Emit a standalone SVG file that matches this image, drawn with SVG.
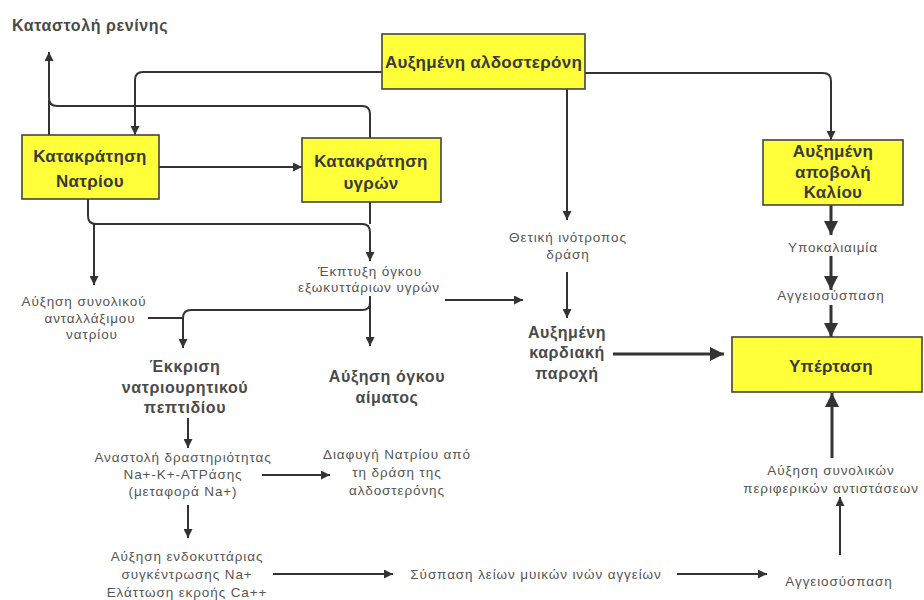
<svg xmlns="http://www.w3.org/2000/svg" width="924" height="600" viewBox="0 0 924 600">
<defs>
<marker id="ah" viewBox="0 0 10 10" refX="10" refY="5" markerWidth="9" markerHeight="9" markerUnits="userSpaceOnUse" orient="auto"><path d="M0,0 L10,5 L0,10 z" fill="#333"/></marker>
<marker id="ahb" viewBox="0 0 10 10" refX="10" refY="5" markerWidth="14" markerHeight="14" markerUnits="userSpaceOnUse" orient="auto"><path d="M0,0 L10,5 L0,10 z" fill="#333"/></marker>
<style>
.box{fill:#FFFF3A;stroke:#444;stroke-width:1.6}
.bt{font-family:"Liberation Sans",Arial,sans-serif;font-weight:bold;font-size:17px;letter-spacing:0.3px;fill:#3a3a3a;text-anchor:middle}
.mt{font-family:"Liberation Sans",Arial,sans-serif;font-weight:bold;font-size:16px;letter-spacing:0.6px;fill:#4a4a4a;text-anchor:middle}
.st{font-family:"Liberation Sans",Arial,sans-serif;font-size:13.5px;letter-spacing:0.9px;fill:#555;text-anchor:middle}
.ttl{font-family:"Liberation Sans",Arial,sans-serif;font-weight:bold;font-size:16px;letter-spacing:0.6px;fill:#4a4a4a}
.c{fill:none;stroke:#333;stroke-width:2}
.cb{fill:none;stroke:#333;stroke-width:3}
</style>
</defs>
<rect width="924" height="600" fill="#fff"/>

<g id="connectors">
<path class="c" d="M370,138 V114 Q370,106 362,106 H57 Q49,106 49,98 V52" marker-end="url(#ah)"/>
<path class="c" d="M49,135 V100"/>
<path class="c" d="M382,72 H143 Q135,72 135,80 V135" marker-end="url(#ah)"/>
<path class="c" d="M585,73 H823 Q831,73 831,81 V140" marker-end="url(#ah)"/>
<path class="c" d="M567,89 V220" marker-end="url(#ah)"/>
<path class="c" d="M159,167 H302" marker-end="url(#ah)"/>
<path class="c" d="M88,199 V216 Q88,224 96,224 H362 Q370,224 370,232 V261" marker-end="url(#ah)"/>
<path class="c" d="M370,202 V224"/>
<path class="c" d="M94,224 V285" marker-end="url(#ah)"/>
<path class="c" d="M370,296 V346" marker-end="url(#ah)"/>
<path class="c" d="M370,303 Q370,310 362,310 H191 Q183,310 183,318 V348" marker-end="url(#ah)"/>
<path class="c" d="M148,318 H183"/>
<path class="c" d="M445,300 H523" marker-end="url(#ah)"/>
<path class="c" d="M567,272 V318" marker-end="url(#ah)"/>
<path class="cb" d="M613,354 H724" marker-end="url(#ahb)"/>
<path class="cb" d="M831,205 V235" marker-end="url(#ahb)"/>
<path class="cb" d="M831,256 V290" marker-end="url(#ahb)"/>
<path class="cb" d="M831,305 V337" marker-end="url(#ahb)"/>
<path class="cb" d="M832,458 V393" marker-end="url(#ahb)"/>
<path class="c" d="M840,555 V497" marker-end="url(#ah)"/>
<path class="c" d="M677,574 H767" marker-end="url(#ah)"/>
<path class="c" d="M273,574 H393" marker-end="url(#ah)"/>
<path class="c" d="M188,418 V448" marker-end="url(#ah)"/>
<path class="c" d="M188,505 V538" marker-end="url(#ah)"/>
<path class="c" d="M262,475 H330" marker-end="url(#ah)"/>
</g>

<text class="ttl" x="12" y="31">Καταστολή ρενίνης</text>

<g id="n-aldosterone">
<rect class="box" x="382" y="34" width="203" height="55"/>
<text class="bt" x="483.5" y="67.5">Αυξημένη αλδοστερόνη</text>
</g>
<g id="n-katakratisi-natriou">
<rect class="box" x="22" y="135" width="137" height="64"/>
<text class="bt" x="90" y="162">Κατακράτηση</text>
<text class="bt" x="90" y="187">Νατρίου</text>
</g>
<g id="n-katakratisi-ygron">
<rect class="box" x="302" y="138" width="139" height="64"/>
<text class="bt" x="371" y="167">Κατακράτηση</text>
<text class="bt" x="371" y="189">υγρών</text>
</g>
<g id="n-kaliou">
<rect class="box" x="763" y="140" width="140" height="65"/>
<text class="bt" x="833" y="157">Αυξημένη</text>
<text class="bt" x="833" y="178">αποβολή</text>
<text class="bt" x="833" y="198">Καλίου</text>
</g>
<g id="n-ypertasi">
<rect class="box" x="732" y="337" width="190" height="55"/>
<text class="bt" x="831" y="372">Υπέρταση</text>
</g>

<g id="n-antallaximou">
<text class="st" x="84" y="306">Αύξηση συνολικού</text>
<text class="st" x="90" y="323">ανταλλάξιμου</text>
<text class="st" x="92" y="339">νατρίου</text>
</g>
<g id="n-ekptyxi">
<text class="st" x="370" y="276">Έκπτυξη όγκου</text>
<text class="st" x="369" y="292">εξωκυττάριων υγρών</text>
</g>
<g id="n-thetiki">
<text class="st" x="568" y="242">Θετική ινότροπος</text>
<text class="st" x="568" y="259">δράση</text>
</g>
<g id="n-ypokaliaimia">
<text class="st" x="833" y="252">Υποκαλιαιμία</text>
</g>
<g id="n-angeiosyspasi-1">
<text class="st" x="831" y="300">Αγγειοσύσπαση</text>
</g>
<g id="n-ekkrisi">
<text class="mt" x="185" y="372">Έκκριση</text>
<text class="mt" x="185" y="393">νατριουρητικού</text>
<text class="mt" x="185" y="413">πεπτιδίου</text>
</g>
<g id="n-aimatos">
<text class="mt" x="387" y="382">Αύξηση όγκου</text>
<text class="mt" x="387" y="403">αίματος</text>
</g>
<g id="n-paroxi">
<text class="mt" x="567" y="338">Αυξημένη</text>
<text class="mt" x="567" y="358">καρδιακή</text>
<text class="mt" x="567" y="379">παροχή</text>
</g>
<g id="n-anastoli">
<text class="st" x="183" y="462">Αναστολή δραστηριότητας</text>
<text class="st" x="183" y="479">Na+-K+-ATPάσης</text>
<text class="st" x="183" y="496">(μεταφορά Na+)</text>
</g>
<g id="n-diafygi">
<text class="st" x="397" y="459">Διαφυγή Νατρίου από</text>
<text class="st" x="397" y="477">τη δράση της</text>
<text class="st" x="397" y="495">αλδοστερόνης</text>
</g>
<g id="n-endokyttarias">
<text class="st" x="187" y="561">Αύξηση ενδοκυττάριας</text>
<text class="st" x="187" y="579">συγκέντρωσης Na+</text>
<text class="st" x="187" y="597">Ελάττωση εκροής Ca++</text>
</g>
<g id="n-syspasi">
<text class="st" x="536" y="579">Σύσπαση λείων μυικών ινών αγγείων</text>
</g>
<g id="n-antistaseon">
<text class="st" x="831" y="475">Αύξηση συνολικών</text>
<text class="st" x="831" y="493">περιφερικών αντιστάσεων</text>
</g>
<g id="n-angeiosyspasi-2">
<text class="st" x="839" y="586">Αγγειοσύσπαση</text>
</g>
</svg>
